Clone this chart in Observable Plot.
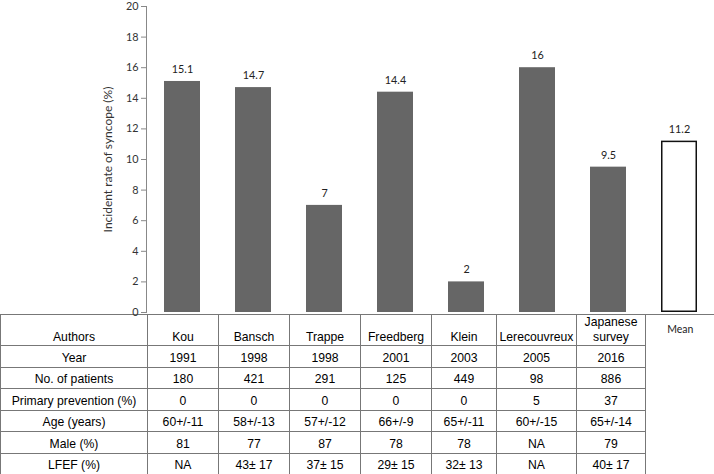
<!DOCTYPE html>
<html><head><meta charset="utf-8">
<script src="https://cdn.jsdelivr.net/npm/d3@7"></script>
<script src="https://cdn.jsdelivr.net/npm/@observablehq/plot@0.6"></script>
<style>
body{margin:0;background:#fff;}
#chart{position:relative;z-index:1;height:314px;}
#chart svg{display:block;overflow:visible;background:transparent;}
table{border-collapse:collapse;table-layout:fixed;width:714px;font-family:"Liberation Sans",Arial,sans-serif;font-size:12.2px;color:#000;}
td{border:1px solid #777;text-align:center;padding:0;overflow:hidden;white-space:nowrap;line-height:14px;}
tr.head td{height:30px;vertical-align:bottom;white-space:normal;line-height:15px;}
tr.body td{height:17.5px;padding-top:3px;vertical-align:middle;}
td.mean{border-left:none;border-right:none;border-bottom:none;}
tr.body td.mean{border-top:none;}
tr.head td.mean{vertical-align:top;font-family:Lato,"Liberation Sans",sans-serif;font-size:10.5px;color:#222;padding-top:7px;height:23px;}
</style>
</head><body>
<div id="chart"></div>
<div id="tbl"></div>
<script>
const authors = ["Kou","Bansch","Trappe","Freedberg","Klein","Lerecouvreux","Japanese survey"];
const syncopeRate = [15.1,14.7,7,14.4,2,16,9.5];
const meanLabel = "Mean";
const meanRate = 11.2;
const yTicks = [0,2,4,6,8,10,12,14,16,18,20];
const rowLabels = ["Authors","Year","No. of patients","Primary prevention (%)","Age (years)","Male (%)","LFEF (%)"];
const years = ["1991","1998","1998","2001","2003","2005","2016"];
const patients = ["180","421","291","125","449","98","886"];
const primaryPrevention = ["0","0","0","0","0","5","37"];
const age = ["60+/-11","58+/-13","57+/-12","66+/-9","65+/-11","60+/-15","65+/-14"];
const male = ["81","77","87","78","78","NA","79"];
const lfef = ["NA","43\u00b1 17","37\u00b1 15","29\u00b1 15","32\u00b1 13","NA","40\u00b1 17"];

const bars = authors.map((a,i)=>({name:a, rate:syncopeRate[i], mean:false}))
  .concat([{name:meanLabel, rate:meanRate, mean:true}]);

const chart = Plot.plot({
  width: 714, height: 314,
  marginLeft: 146, marginRight: 0, marginTop: 6, marginBottom: 2,
  style: {fontFamily: "Lato, 'Liberation Sans', sans-serif", fontSize: "10.8px", color: "#333", background: "transparent", overflow: "visible"},
  x: {domain: bars.map(d=>d.name), paddingInner: 0.5, paddingOuter: 0.25, axis: null},
  y: {domain: [0,20]},
  marks: [
    Plot.frame({anchor: "left", stroke: "#888"}),
    Plot.axisY({ticks: yTicks, tickSize: 5, stroke: "#888", tickPadding: 3, fontSize: 10.8, label: null}),
    Plot.axisY({ticks: [], tickSize: 0, label: "Incident rate of syncope (%)", labelAnchor: "center",
      labelOffset: 43, labelArrow: "none", fontSize: 12}),
    Plot.barY(bars.filter(d=>!d.mean), {x:"name", y:"rate", fill:"#666666"}),
    Plot.barY(bars.filter(d=>d.mean), {x:"name", y:"rate", fill:"#fff", stroke:"#111", strokeWidth:1.5, inset:0.75}),
    Plot.text(bars, {x:"name", y:"rate", text: d=>String(d.rate), dy:-12, fill:"#222", fontSize: 10.8})
  ]
});
document.getElementById("chart").appendChild(chart);

const rows = [authors, years, patients, primaryPrevention, age, male, lfef];
const colW = [147,71,71,71,71,65,80,69,69];
let html = "<table><colgroup>" + colW.map(w=>`<col style="width:${w}px">`).join("") + "</colgroup>";
rows.forEach((vals, r) => {
  html += `<tr class="${r===0?'head':'body'}"><td>${rowLabels[r]}</td>` +
    vals.map(v=>`<td>${v}</td>`).join("") +
    `<td class="mean">${r===0?meanLabel:""}</td></tr>`;
});
html += "</table>";
document.getElementById("tbl").innerHTML = html;
</script>
</body></html>
